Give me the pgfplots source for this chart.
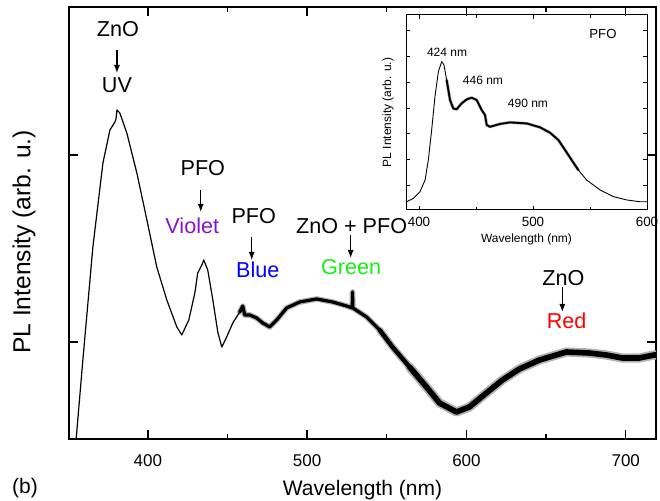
\documentclass[border=0pt]{standalone}
\usepackage{fontspec}
\setmainfont{Liberation Sans}
\usepackage{pgfplots}
\usepackage{pgfplotstable}
\pgfplotsset{compat=1.18}
\usetikzlibrary{arrows.meta}

\definecolor{violetc}{RGB}{135,20,200}
\definecolor{bluec}{RGB}{0,0,255}
\definecolor{greenc}{RGB}{20,240,20}
\definecolor{redc}{RGB}{255,0,0}

% main PL spectrum (wavelength nm, intensity arb.)
\pgfplotstableread{
nm h
354.5 -8
355.0 0
359.2 79
365.5 192
371.8 276
376.2 309
379.3 317
380.0 320
380.6 329
382.4 326
386.8 306
393.1 266
399.4 219
405.6 172
411.9 139
418.2 112
421.3 104
425.7 119
429.5 146
431.3 166
433.9 174
435.1 179
437.6 169
440.8 139
443.9 107
446.4 92
449.5 102
453.3 116
457.7 127
459.6 133
460.8 124
464.0 124
468.3 121
472.1 116
476.5 112
480.9 119
487.1 131
495.3 137
506.0 140
516.0 137
524.8 133
528.3 131
528.5 147
528.7 131
537.3 122
545.5 109
553.6 92
564.3 72
574.9 52
583.1 36
593.7 27
601.9 32
612.5 46
622.6 59
633.2 70
645.8 79
656.4 84
662.7 87
677.1 86
687.8 84
697.8 81
708.5 81
717.9 84
719.0 84
}\mainspec

% inset: PFO only
\pgfplotstableread{
nm v
389.2 0.36
395.0 0.49
400.9 0.75
405.3 1.20
408.2 1.98
411.1 3.14
414.0 4.44
417.0 5.41
419.9 5.80
421.9 5.67
424.3 5.08
427.2 4.31
430.1 3.98
433.0 3.95
437.4 4.18
441.8 4.33
446.2 4.40
450.6 4.31
455.0 3.92
457.9 3.73
459.4 3.34
462.3 3.27
471.1 3.38
479.8 3.44
494.5 3.40
506.1 3.25
514.9 3.04
522.2 2.76
528.1 2.37
533.9 1.98
539.8 1.59
547.1 1.20
558.8 0.82
570.5 0.56
582.2 0.43
593.9 0.36
599.7 0.36
}\insetspec

\newcommand{\ann}{\fontsize{10.8}{13}\selectfont}
\newcommand{\sml}{\fontsize{6}{7}\selectfont}

\begin{document}
\begin{tikzpicture}
\useasboundingbox (0,0) rectangle (330pt,250.5pt);

\begin{axis}[
  at={(34.5pt,31pt)}, anchor=south west,
  scale only axis, width=293.5pt, height=216pt,
  xmin=350.5, xmax=719, ymin=0, ymax=432,
  xtick={400,500,600,700}, minor xtick={450,550,650},
  ytick={97,284}, yticklabels={},
  axis line style={line width=0.7pt},
  every tick/.style={line width=0.7pt, black},
  major tick length=4.5pt, minor tick length=2.5pt,
  /pgf/number format/assume math mode=true,
  xticklabel style={font=\fontsize{8.5}{10}\selectfont, yshift=-4.5pt},
  xlabel={Wavelength (nm)},
  ylabel={PL Intensity (arb. u.)},
  x label style={at={(axis description cs:0.5,0)}, anchor=center, yshift=-25.5pt, font=\fontsize{10.5}{12}\selectfont},
  y label style={at={(axis description cs:-0.0767,0.456)}, anchor=center, font=\fontsize{12.3}{14}\selectfont},
  every axis plot/.append style={line join=round, line cap=round},
]
% noise band, drawn as wide grey and black strokes
\addplot[black!30, line width=2.8pt, restrict x to domain=455:560] table[x=nm, y=h] {\mainspec};
\addplot[black!30, line width=3.6pt, restrict x to domain=545:575] table[x=nm, y=h] {\mainspec};
\addplot[black!30, line width=4.6pt, restrict x to domain=560:719] table[x=nm, y=h] {\mainspec};
\addplot[black, line width=0.6pt] table[x=nm, y=h] {\mainspec};
\addplot[black, line width=1.6pt, restrict x to domain=455:560] table[x=nm, y=h] {\mainspec};
\addplot[black, line width=2.2pt, restrict x to domain=545:575] table[x=nm, y=h] {\mainspec};
\addplot[black, line width=2.8pt, restrict x to domain=560:719] table[x=nm, y=h] {\mainspec};

\node[font=\ann] at (axis cs:381.2,410) {ZnO};
\draw[-{Latex[length=4pt,width=3pt]}, line width=0.6pt] (axis cs:380.6,389) -- (axis cs:380.6,366);
\node[font=\ann] at (axis cs:380.6,354) {UV};

\node[font=\ann] at (axis cs:434.5,271) {PFO};
\draw[-{Latex[length=4pt,width=3pt]}, line width=0.6pt] (axis cs:433.2,249) -- (axis cs:433.2,227);
\node[font=\ann, text=violetc] at (axis cs:427.9,213) {Violet};

\node[font=\ann] at (axis cs:466.5,223) {PFO};
\draw[-{Latex[length=4pt,width=3pt]}, line width=0.6pt] (axis cs:465.2,202) -- (axis cs:465.2,179);
\node[font=\ann, text=bluec] at (axis cs:469.0,169) {Blue};

\node[font=\ann] at (axis cs:527.9,213) {ZnO + PFO};
\draw[-{Latex[length=4pt,width=3pt]}, line width=0.6pt] (axis cs:527.3,204) -- (axis cs:527.3,181);
\node[font=\ann, text=greenc] at (axis cs:527.6,172) {Green};

\node[font=\ann] at (axis cs:660.9,161) {ZnO};
\draw[-{Latex[length=4pt,width=3pt]}, line width=0.6pt] (axis cs:660.2,152) -- (axis cs:660.2,127);
\node[font=\ann, text=redc] at (axis cs:662.9,118) {Red};
\end{axis}

\node[font=\fontsize{10.5}{12}\selectfont] at (12.5pt,6.5pt) {(b)};

\begin{axis}[
  at={(203pt,145.5pt)}, anchor=south west,
  scale only axis, width=120.5pt, height=97.5pt,
  xmin=388.6, xmax=600, ymin=0.04, ymax=7.61,
  xtick={400,500,600}, minor xtick={450,550},
  ytick={1,2,3,4,5,6,7}, yticklabels={},
  axis line style={line width=0.5pt},
  every tick/.style={line width=0.4pt, black},
  major tick length=2.2pt, minor tick length=1.5pt,
  /pgf/number format/assume math mode=true,
  xticklabel style={font=\fontsize{6.7}{8}\selectfont},
  xlabel={Wavelength (nm)},
  ylabel={PL Intensity (arb. u.)},
  x label style={at={(axis description cs:0.5,0)}, anchor=center, yshift=-14.5pt, font=\sml},
  y label style={at={(axis description cs:-0.075,0.5)}, anchor=center, font=\sml},
  every axis plot/.append style={line join=round, line cap=round},
]
\addplot[black!35, line width=1.5pt, restrict x to domain=424:545] table[x=nm, y=v] {\insetspec};
\addplot[black, line width=0.45pt] table[x=nm, y=v] {\insetspec};
\addplot[black, line width=0.9pt, restrict x to domain=424:545] table[x=nm, y=v] {\insetspec};
\node[font=\sml] at (axis cs:424.6,6.17) {424 nm};
\node[font=\sml] at (axis cs:456.1,5.08) {446 nm};
\node[font=\sml] at (axis cs:495.6,4.19) {490 nm};
\node[font=\fontsize{6.6}{8}\selectfont] at (axis cs:561.4,6.87) {PFO};
\end{axis}
\end{tikzpicture}
\end{document}
